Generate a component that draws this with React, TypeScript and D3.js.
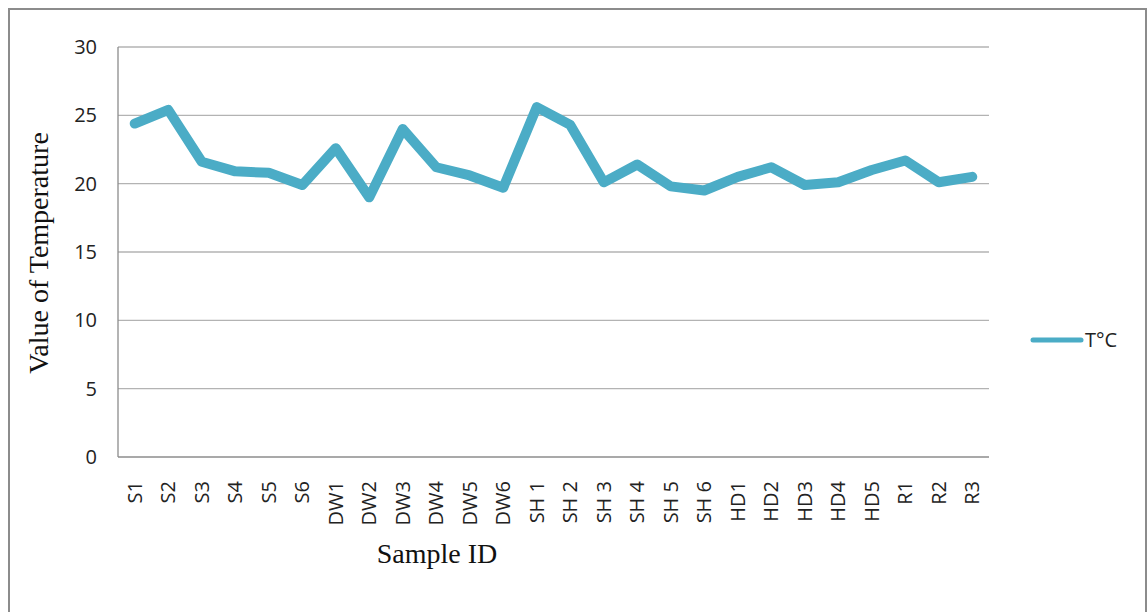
import React from "react";
import * as d3 from "d3";

const categories = ["S1","S2","S3","S4","S5","S6","DW1","DW2","DW3","DW4","DW5","DW6","SH 1","SH 2","SH 3","SH 4","SH 5","SH 6","HD1","HD2","HD3","HD4","HD5","R1","R2","R3"];
const temperature = [24.4,25.4,21.6,20.9,20.8,19.9,22.6,19.0,24.0,21.2,20.6,19.7,25.6,24.3,20.1,21.4,19.8,19.5,20.5,21.2,19.9,20.1,21.0,21.7,20.1,20.5];
const yTicks = [0,5,10,15,20,25,30];
const seriesName = "T°C";

const W = 1148, H = 612;
const left = 118, right = 989, top = 47, bottom = 457;
const color = "#4BACC6";
const tickFont = "'Open Sans', 'Noto Sans', sans-serif";
const serif = "'Liberation Serif', 'DejaVu Serif', serif";

export default function App() {
  const x = d3.scaleBand<string>().domain(categories).range([left, right]);
  const y = d3.scaleLinear().domain([0, 30]).range([bottom, top]);
  const line = d3.line<number>()
    .x((_, i) => (x(categories[i]) as number) + x.bandwidth() / 2)
    .y(d => y(d));
  return (
    <svg width={W} height={H} style={{ position: "absolute", left: 0, top: 0, background: "#fff" }}>
      <rect x={9} y={9} width={1137} height={620} fill="#fff" stroke="#8c8c8c" strokeWidth={2} />
      {yTicks.map(t => (
        <g key={t}>
          {t > 0 && <line x1={left} x2={right} y1={y(t)} y2={y(t)} stroke="#b3b3b3" strokeWidth={1.3} />}
          <text x={97} y={y(t)} dy="0.35em" textAnchor="end" fontFamily={tickFont} fontSize={20} fill="#222">{t}</text>
        </g>
      ))}
      <line x1={left} x2={left} y1={top} y2={bottom} stroke="#8c8c8c" strokeWidth={1.3} />
      <line x1={left} x2={right} y1={bottom} y2={bottom} stroke="#8c8c8c" strokeWidth={1.3} />
      {categories.map(c => {
        const cx = (x(c) as number) + x.bandwidth() / 2;
        return (
          <text key={c} transform={`translate(${cx},481) rotate(-90)`} dy="0.35em" textAnchor="end"
            fontFamily={tickFont} fontSize={20} fill="#222">{c}</text>
        );
      })}
      <path d={line(temperature) as string} fill="none" stroke={color} strokeWidth={10} strokeLinejoin="round" strokeLinecap="round" />
      <text transform="translate(48,253) rotate(-90)" textAnchor="middle" fontFamily={serif} fontSize={28} fill="#111">Value of Temperature</text>
      <text x={437} y={563} textAnchor="middle" fontFamily={serif} fontSize={28} fill="#111">Sample ID</text>
      <line x1={1033} x2={1081} y1={340} y2={340} stroke={color} strokeWidth={5} strokeLinecap="round" />
      <text x={1085} y={340} dy="0.35em" fontFamily={tickFont} fontSize={20} fill="#222">{seriesName}</text>
    </svg>
  );
}
